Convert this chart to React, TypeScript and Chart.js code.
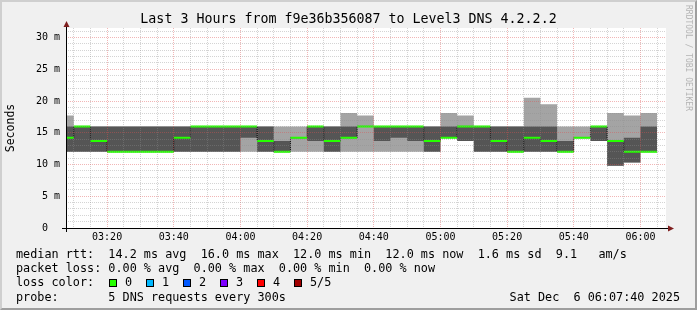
import React, { useEffect, useRef } from 'react';
import { Chart, registerables } from 'chart.js';

Chart.register(...registerables);

const MONO = '"DejaVu Sans Mono", monospace';

// time window (minutes since midnight): 03:07:40 .. 06:07:40
const WINDOW_START = '03:07:40';
const WINDOW_END = '06:07:40';

// end time of every 5-minute bin (rrd convention: value covers the 5 minutes before)
const BIN_ENDS = [
  '03:10', '03:15', '03:20', '03:25', '03:30', '03:35', '03:40', '03:45', '03:50',
  '03:55', '04:00', '04:05', '04:10', '04:15', '04:20', '04:25', '04:30', '04:35',
  '04:40', '04:45', '04:50', '04:55', '05:00', '05:05', '05:10', '05:15', '05:20',
  '05:25', '05:30', '05:35', '05:40', '05:45', '05:50', '05:55', '06:00', '06:05',
];

// sorted ping results (ms) per bin: min, 2nd, median, 4th, max
const PING_MIN = [
  12, 12, 12, 12, 12, 12, 12, 12, 12, 12, 12, 12, 12, 12, 12, 12, 12, 12,
  12, 12, 12, 12, 12, 14.2, 13.7, 12, 12, 12, 12, 12, 12, 14.2, 13.7, 9.8, 10.3, 12,
];
const PING_LOW = [
  12, 12, 12, 12, 12, 12, 12, 12, 12, 12, 12, 14.2, 12, 12, 14.2, 13.7, 12, 14.2,
  16, 13.7, 14.2, 13.7, 12, 14.2, 13.7, 12, 12, 12, 12, 12, 12, 14.2, 13.7, 9.8, 10.3, 12,
];
const PING_MEDIAN = [
  14.2, 16, 13.7, 12, 12, 12, 12, 14.2, 16, 16, 16, 16, 13.7, 12, 14.2, 16, 13.7, 14.2,
  16, 16, 16, 16, 13.7, 14.2, 16, 16, 13.7, 12, 14.2, 13.7, 12, 14.2, 16, 13.7, 12, 12,
];
const PING_HIGH = [
  16, 16, 16, 16, 16, 16, 16, 16, 16, 16, 16, 16, 16, 13.7, 14.2, 16, 16, 16,
  16, 16, 16, 16, 16, 16, 16, 16, 16, 16, 16, 16, 13.7, 14.2, 16, 13.7, 14.2, 16,
];
const PING_MAX = [
  17.7, 16, 16, 16, 16, 16, 16, 16, 16, 16, 16, 16, 16, 16, 16, 16, 16, 18.1,
  17.7, 16, 16, 16, 16, 18.1, 17.7, 16, 16, 16, 20.5, 19.5, 16, 16, 16, 18.1, 17.7, 18.1,
];

const Y_MAX = 31.5;
const Y_UNIT = 'm';

const TITLE = 'Last 3 Hours from f9e36b356087 to Level3 DNS 4.2.2.2';
const Y_TITLE = 'Seconds';
const LEGEND_RTT = 'median rtt:  14.2 ms avg  16.0 ms max  12.0 ms min  12.0 ms now  1.6 ms sd  9.1   am/s';
const LEGEND_LOSS = 'packet loss: 0.00 % avg  0.00 % max  0.00 % min  0.00 % now';
const LOSS_LABEL = 'loss color:';
const LOSS_NAMES = ['0', '1', '2', '3', '4', '5/5'];
const LOSS_COLORS = ['#26ff00', '#00b8ff', '#0059ff', '#7e00ff', '#ff0000', '#a10000'];
const PROBE = 'probe:       5 DNS requests every 300s';
const STAMP = 'Sat Dec  6 06:07:40 2025';
const WATERMARK = 'RRDTOOL / TOBI OETIKER';

const toMin = (s: string) => {
  const p = s.split(':').map(Number);
  return p[0] * 60 + p[1] + (p[2] || 0) / 60;
};
const pad2 = (n: number) => String(n).padStart(2, '0');

export default function App() {
  const ref = useRef<HTMLCanvasElement | null>(null);

  useEffect(() => {
    document.body.style.margin = '0';
    const canvas = ref.current;
    if (!canvas) return;

    const start = toMin(WINDOW_START);
    const end = toMin(WINDOW_END);
    const ends = BIN_ENDS.map(toMin);
    const xs = [start, ...ends];
    // stepped 'after' in Chart.js: the target point's value applies over (prev.x, target.x]
    const steps = (vals: number[]) => xs.map((x, i) => ({ x, y: vals[Math.max(0, i - 1)] }));

    const medianSegs: { x: number; y: number | null }[] = [];
    PING_MEDIAN.forEach((m, k) => {
      const x0 = k === 0 ? start : ends[k - 1];
      medianSegs.push({ x: x0, y: m }, { x: ends[k], y: m }, { x: ends[k], y: null });
    });

    const xGrid: number[] = [];
    for (let v = Math.ceil(start / 5) * 5; v < end; v += 5) xGrid.push(v);
    const yGrid: number[] = [];
    for (let v = 0; v <= Math.floor(Y_MAX); v += 1) yGrid.push(v);

    const MAJOR = 'rgba(222,80,80,0.42)';
    const MINOR = 'rgba(143,143,143,0.38)';

    const bgPlugin = {
      id: 'canvasBg',
      beforeDraw(chart: any) {
        const { ctx, chartArea: a } = chart;
        ctx.save();
        ctx.fillStyle = '#ffffff';
        ctx.fillRect(a.left, a.top, a.right - a.left, a.bottom - a.top);
        ctx.restore();
      },
    };
    const axisPlugin = {
      id: 'rrdAxes',
      afterDraw(chart: any) {
        const { ctx, chartArea: a } = chart;
        ctx.save();
        ctx.strokeStyle = '#000';
        ctx.lineWidth = 1;
        ctx.beginPath();
        ctx.moveTo(a.left - 4, a.bottom + 0.5);
        ctx.lineTo(a.right + 2, a.bottom + 0.5);
        ctx.moveTo(a.left + 0.5, a.bottom + 4);
        ctx.lineTo(a.left + 0.5, a.top - 2);
        ctx.stroke();
        ctx.fillStyle = '#7f1f1f';
        ctx.beginPath();
        ctx.moveTo(a.right + 2, a.bottom - 2.5);
        ctx.lineTo(a.right + 2, a.bottom + 3.5);
        ctx.lineTo(a.right + 8, a.bottom + 0.5);
        ctx.closePath();
        ctx.fill();
        ctx.beginPath();
        ctx.moveTo(a.left - 2.5, a.top - 1);
        ctx.lineTo(a.left + 3.5, a.top - 1);
        ctx.lineTo(a.left + 0.5, a.top - 7);
        ctx.closePath();
        ctx.fill();
        ctx.restore();
      },
    };

    const base = { pointRadius: 0, borderWidth: 0, stepped: 'after' as const, tension: 0 };

    const chart = new Chart(canvas, {
      type: 'line',
      data: {
        datasets: [
          { ...base, data: steps(PING_MIN), fill: false, order: 6, borderColor: 'transparent' },
          { ...base, data: steps(PING_MAX), fill: { target: 0 }, backgroundColor: '#a4a4a4', order: 5, borderColor: 'transparent' },
          { ...base, data: steps(PING_LOW), fill: false, order: 4, borderColor: 'transparent' },
          { ...base, data: steps(PING_HIGH), fill: { target: 2 }, backgroundColor: '#555555', order: 3, borderColor: 'transparent' },
          { ...base, data: steps(PING_MEDIAN), fill: false, order: 2, borderColor: '#000000', borderWidth: 1, borderDash: [1, 1] },
          { pointRadius: 0, data: medianSegs as any, fill: false, order: 1, borderColor: '#26ff00', borderWidth: 2, spanGaps: false, tension: 0 },
        ] as any,
      },
      options: {
        animation: false,
        responsive: false,
        devicePixelRatio: 1,
        events: [],
        layout: { padding: { top: 28, right: 31, bottom: 62, left: 0 } },
        plugins: { legend: { display: false }, tooltip: { enabled: false }, title: { display: false } },
        scales: {
          x: {
            type: 'linear',
            min: start,
            max: end,
            afterBuildTicks: (s: any) => { s.ticks = xGrid.map((v) => ({ value: v })); },
            afterFit: (s: any) => { s.height = 20; },
            grid: {
              z: 1,
              drawTicks: false,
              lineWidth: 1,
              color: (c: any) => (Math.round(c.tick.value) % 20 === 0 ? MAJOR : MINOR),
            },
            border: { display: false, dash: [1, 1] },
            ticks: {
              autoSkip: false,
              maxRotation: 0,
              padding: 3,
              color: '#000',
              font: { family: MONO, size: 10 },
              callback: (v: any) => {
                const n = Math.round(Number(v));
                return n % 20 === 0 ? `${pad2(Math.floor(n / 60))}:${pad2(n % 60)}` : '';
              },
            },
          },
          y: {
            type: 'linear',
            min: 0,
            max: Y_MAX,
            afterBuildTicks: (s: any) => { s.ticks = yGrid.map((v) => ({ value: v })); },
            afterFit: (s: any) => { s.width = 66; },
            grid: {
              z: 1,
              drawTicks: false,
              lineWidth: 1,
              color: (c: any) => (Math.round(c.tick.value) % 5 === 0 ? MAJOR : MINOR),
            },
            border: { display: false, dash: [1, 1] },
            title: { display: true, text: Y_TITLE, color: '#000', font: { family: MONO, size: 11.5 }, padding: { top: 4, bottom: 0 } },
            ticks: {
              autoSkip: false,
              padding: 6,
              color: '#000',
              font: { family: MONO, size: 10 },
              callback: (v: any) => {
                const n = Math.round(Number(v));
                if (n % 5 !== 0) return '';
                return n === 0 ? '0  ' : `${n} ${Y_UNIT}`;
              },
            },
          },
        },
      } as any,
      plugins: [bgPlugin, axisPlugin],
    });
    return () => chart.destroy();
  }, []);

  const legendFont: React.CSSProperties = {
    position: 'absolute',
    left: 16,
    fontFamily: MONO,
    fontSize: 11.8,
    lineHeight: '14px',
    whiteSpace: 'pre',
    color: '#000',
  };

  return (
    <div style={{ position: 'relative', width: 697, height: 310, background: '#f0f0f0', overflow: 'hidden' }}>
      <canvas ref={ref} width={697} height={310} style={{ position: 'absolute', left: 0, top: 0, width: 697, height: 310 }} />
      <div style={{ position: 'absolute', left: 0, top: 11, width: 697, textAlign: 'center', fontFamily: MONO, fontSize: 13.3, lineHeight: '16px', whiteSpace: 'pre', color: '#000' }}>{TITLE}</div>
      <div style={{ position: 'absolute', left: 684, top: 5, fontFamily: MONO, fontSize: 8, lineHeight: '8px', writingMode: 'vertical-rl', whiteSpace: 'pre', color: '#b4b4b4' }}>{WATERMARK}</div>
      <div style={{ ...legendFont, top: 247 }}>{LEGEND_RTT}</div>
      <div style={{ ...legendFont, top: 261 }}>{LEGEND_LOSS}</div>
      <div style={{ ...legendFont, top: 275 }}>{LOSS_LABEL}</div>
      {LOSS_NAMES.map((n, i) => (
        <React.Fragment key={n}>
          <div style={{ position: 'absolute', left: 109 + i * 37, top: 279, width: 8, height: 8, boxSizing: 'border-box', border: '1px solid #000', background: LOSS_COLORS[i] }} />
          <div style={{ ...legendFont, left: 125 + i * 37, top: 275 }}>{n}</div>
        </React.Fragment>
      ))}
      <div style={{ ...legendFont, top: 290 }}>{PROBE}</div>
      <div style={{ ...legendFont, left: undefined, right: 17, top: 290 }}>{STAMP}</div>
      <div style={{ position: 'absolute', left: 0, top: 0, width: 697, height: 310, boxSizing: 'border-box', borderTop: '2px solid #cfcfcf', borderLeft: '2px solid #cfcfcf', borderRight: '2px solid #9e9e9e', borderBottom: '2px solid #9e9e9e', pointerEvents: 'none' }} />
    </div>
  );
}
